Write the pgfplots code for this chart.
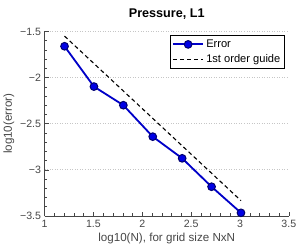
\documentclass[border=0pt]{standalone}
\usepackage{pgfplots}
\pgfplotsset{compat=1.18}
\usepackage{fontspec}
\setmainfont{Liberation Sans}
\begin{document}
\begin{tikzpicture}
\definecolor{errblue}{RGB}{0,0,200}
\definecolor{axgray}{RGB}{70,70,70}
\begin{axis}[
  name=ax,
  scale only axis,
  width=241bp, height=182bp,
  xmin=1, xmax=3.5, ymin=-3.5, ymax=-1.5,
  xtick={1,1.5,2,2.5,3,3.5}, ytick={-3.5,-3,-2.5,-2,-1.5},
  xticklabels={1,1.5,2,2.5,3,3.5},
  yticklabels={−3.5,−3,−2.5,−2,−1.5},
  minor x tick num=4, minor y tick num=4,
  axis x line*=bottom, axis y line*=left,
  axis line style={axgray, line width=0.6pt, -},
  tick style={axgray, line width=0.5pt},
  tick align=inside,
  major tick length=4bp, minor tick length=2.5bp,
  ymajorgrids,
  grid style={gray!45, line width=0.6pt, dash pattern=on 0.7pt off 1.8pt},
  ticklabel style={font=\fontsize{10.5}{12}\selectfont, text=axgray},
  xticklabel style={yshift=-1bp},
  xlabel={log10(N), for grid size NxN},
  ylabel={log10(error)},
  label style={font=\fontsize{11.5}{13}\selectfont, text=axgray},
  xlabel style={yshift=2bp},
  ylabel style={yshift=-1bp},
  title={\textbf{Pressure, L1}},
  title style={font=\fontsize{12.5}{14}\selectfont, yshift=2.5bp},
  legend style={at={(0.983,0.978)}, anchor=north east, font=\fontsize{11}{13}\selectfont, draw=black, line width=0.6pt, inner sep=2pt, row sep=1.5pt},
  legend cell align=left,
  legend image code/.code={\draw[mark repeat=2,mark phase=2,#1] plot coordinates {(0bp,0bp) (15bp,0bp) (30bp,0bp)};},
]
\addplot[errblue, line width=1.8pt, mark=*, mark size=3.8pt, mark options={fill=blue!90!black, draw=errblue!55!black, line width=1pt}]
coordinates {
(1.204,-1.661) (1.505,-2.098) (1.806,-2.300) (2.107,-2.641) (2.408,-2.876) (2.709,-3.184) (3.010,-3.467)
};
\addlegendentry{Error}
\addplot[black, line width=1.1pt, dash pattern=on 4pt off 3pt]
coordinates {
(1.204,-1.551) (3.010,-3.335)
};
\addlegendentry{1st order guide}
\end{axis}
\path (ax.south east) ++(11bp,0) coordinate (r);
\path (r) -- ++(0,1bp);
\path (ax.north) ++(0,31bp) coordinate (t);
\path (t) -- ++(0,-1bp);
\end{tikzpicture}
\end{document}
